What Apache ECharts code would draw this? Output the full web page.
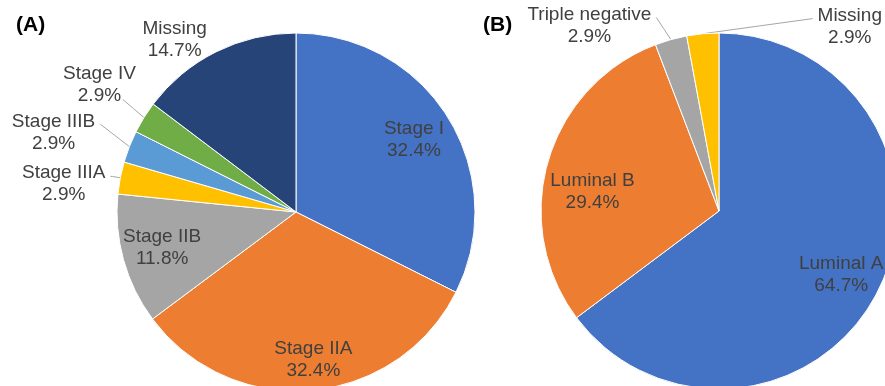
<!DOCTYPE html>
<html><head><meta charset="utf-8">
<script src="https://cdn.jsdelivr.net/npm/echarts@6/dist/echarts.min.js"></script>
<style>html,body{margin:0;padding:0;background:#fff}#c{width:885px;height:386px}</style>
</head><body><div id="c"></div>
<script>
const stageNames = ['Stage I','Stage IIA','Stage IIB','Stage IIIA','Stage IIIB','Stage IV','Missing'];
const stagePct = [32.4, 32.4, 11.8, 2.9, 2.9, 2.9, 14.7];
const stageColors = ['#4472C4','#ED7D31','#A5A5A5','#FFC000','#5B9BD5','#70AD47','#264478'];
const subtypeNames = ['Luminal A','Luminal B','Triple negative','Missing'];
const subtypePct = [64.7, 29.4, 2.9, 2.9];
const subtypeColors = ['#4472C4','#ED7D31','#A5A5A5','#FFC000'];
const panelLabels = ['(A)', '(B)'];

// label styling: [lineLength, lineLength2, showLine, dx, dy, lineEndAnchor(fracX, fracY, offsetX)] for outside labels; [dx, dy] for inside ones
const stageOutside = {
  3: [8, 2, true, -2, 7, null],
  4: [28, 2, true, -3, -4, [1, 0.3, 5]],
  5: [26, 0, true, 17, -19, [1, 0.86, -13]],
  6: [10, 0, false, -2, -3, null]
};
const stageInside = { 0: [-2, 2], 1: [5, 7], 2: [2, -2] };
const subtypeOutside = {
  2: [28, 2, true, -7, 13, [1, 0.3, 5]],
  3: [20, 0, true, 184, 13, [0, 0.3, -5]]
};
const subtypeInside = { 0: [-3, 1], 1: [8, 20] };

const FONT = 'Liberation Sans, Arial, sans-serif';
const TXT = '#404040';
const rich = { n: { align: 'center', fontSize: 19, lineHeight: 22, color: TXT, fontFamily: FONT } };
const fmt = p => '{n|' + p.name + '}\n{n|' + Number(p.value).toFixed(1) + '%}';

function mainSeries(names, vals, colors, center, r, outside) {
  return {
    type: 'pie', center: center, radius: r, startAngle: 90, clockwise: true,
    animation: false, silent: true, avoidLabelOverlap: false,
    itemStyle: { borderColor: '#fff', borderWidth: 1 },
    label: { show: true, position: 'outside', formatter: fmt, rich: rich, distanceToLabelLine: 3, alignTo: 'none' },
    labelLine: { show: true, lineStyle: { color: '#A6A6A6', width: 1 } },
    labelLayout: p => {
      const o = outside[p.dataIndex];
      if (!o) return { hideOverlap: false };
      const res = { hideOverlap: false, dx: o[3], dy: o[4] };
      if (o[5] && p.labelLinePoints && p.labelLinePoints.length) {
        const rc = p.labelRect;
        const s = p.labelLinePoints[0];
        const e = [rc.x + o[3] + rc.width * o[5][0] + o[5][2], rc.y + o[4] + rc.height * o[5][1]];
        res.labelLinePoints = [[s[0], s[1]], [(s[0] + e[0]) / 2, (s[1] + e[1]) / 2], e];
      }
      return res;
    },
    data: names.map((n, i) => {
      const o = outside[i];
      return {
        name: n, value: vals[i], itemStyle: { color: colors[i] },
        label: { show: !!o },
        labelLine: o ? { show: o[2], length: o[0], length2: o[1] } : { show: false }
      };
    })
  };
}
function labelSeries(names, vals, center, r, inside) {
  return {
    type: 'pie', center: center, radius: [Math.round(r * 0.54), r], startAngle: 90, clockwise: true,
    animation: false, silent: true, avoidLabelOverlap: false,
    itemStyle: { color: 'rgba(0,0,0,0)', borderWidth: 0 },
    label: { show: true, position: 'inside', formatter: fmt, rich: rich },
    labelLine: { show: false },
    labelLayout: p => {
      const o = inside[p.dataIndex];
      return o ? { hideOverlap: false, dx: o[0], dy: o[1] } : { hideOverlap: false };
    },
    data: names.map((n, i) => ({ name: n, value: vals[i], label: { show: !!inside[i] } }))
  };
}

const chart = echarts.init(document.getElementById('c'), null, { renderer: 'canvas' });
chart.setOption({
  backgroundColor: '#fff',
  graphic: [
    { type: 'text', left: 16, top: 15, style: { text: panelLabels[0], font: 'bold 21px ' + FONT, fill: '#000' } },
    { type: 'text', left: 483, top: 15, style: { text: panelLabels[1], font: 'bold 21px ' + FONT, fill: '#000' } }
  ],
  series: [
    mainSeries(stageNames, stagePct, stageColors, [296, 212], 179, stageOutside),
    labelSeries(stageNames, stagePct, [296, 212], 179, stageInside),
    mainSeries(subtypeNames, subtypePct, subtypeColors, [719, 211], 178, subtypeOutside),
    labelSeries(subtypeNames, subtypePct, [719, 211], 178, subtypeInside)
  ]
});
</script></body></html>
